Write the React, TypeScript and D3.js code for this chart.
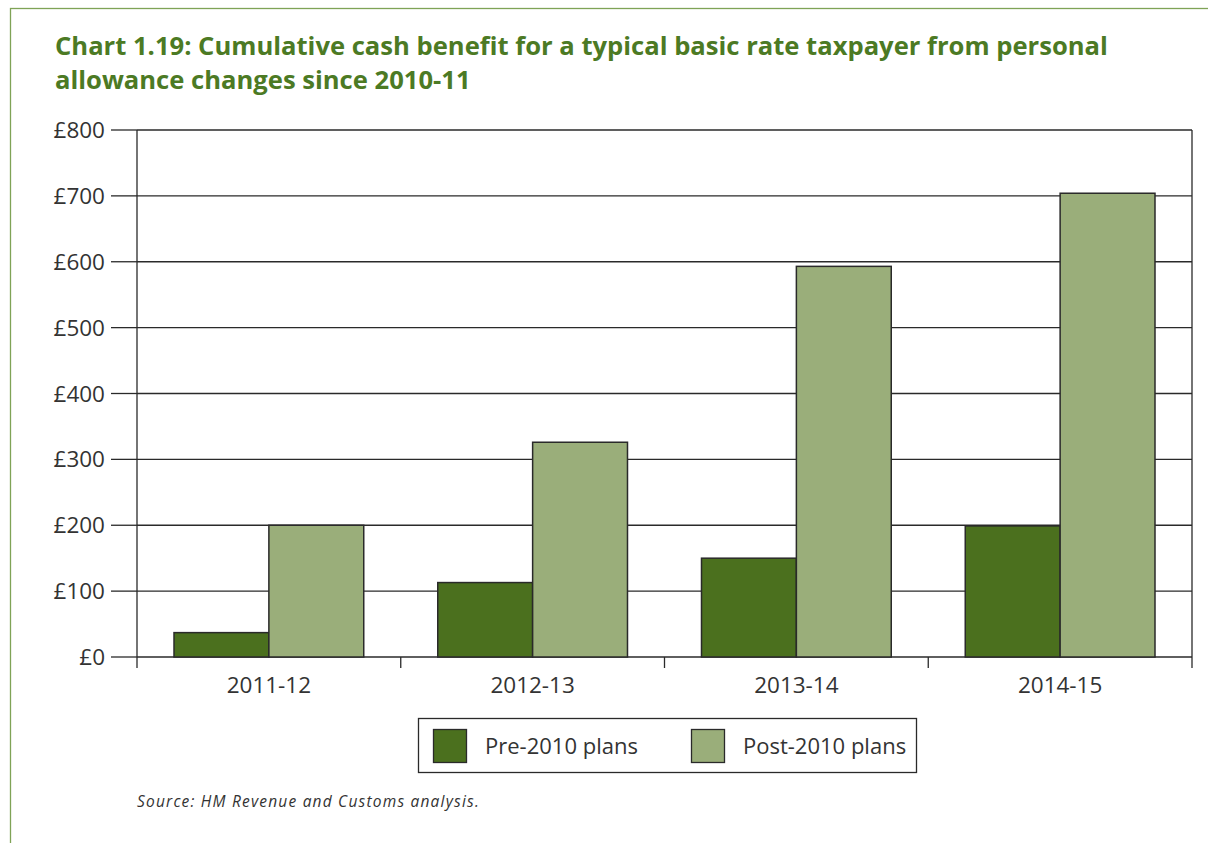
import React from "react";
import * as d3 from "d3";

const categories = ["2011-12", "2012-13", "2013-14", "2014-15"];
const seriesNames = ["Pre-2010 plans", "Post-2010 plans"];
const pre2010 = [37, 113, 150, 199];
const post2010 = [200, 326, 593, 704];
const yTicks = [0, 100, 200, 300, 400, 500, 600, 700, 800];
const colors = ["#4b701e", "#9aae7a"];

export default function App() {
  const W = 1208, H = 843;
  const left = 137, right = 1192, top = 130, bottom = 657;
  const x0 = d3.scaleBand<string>().domain(categories).range([left, right]).paddingInner(0).paddingOuter(0);
  const bw = x0.bandwidth();
  const x1 = d3.scaleBand<string>().domain(seriesNames).range([0, bw]).paddingOuter(0.39).paddingInner(0);
  const y = d3.scaleLinear().domain([0, 800]).range([bottom, top]);
  const data = [pre2010, post2010];
  const font = "'Open Sans', 'Noto Sans', sans-serif";
  return (
    <svg width={W} height={H} style={{ position: "absolute", left: 0, top: 0, background: "#fff" }}>
      <rect x={10.5} y={8.5} width={1300} height={900} fill="none" stroke="#7fa356" strokeWidth={1.3} />
      <text x={55} y={55} fontFamily={font} fontWeight={700} fontSize={25.6} fill="#4c7a24">
        Chart 1.19: Cumulative cash benefit for a typical basic rate taxpayer from personal
      </text>
      <text x={55} y={89} fontFamily={font} fontWeight={700} fontSize={25.6} fill="#4c7a24">
        allowance changes since 2010-11
      </text>
      {yTicks.map((t) => (
        <g key={t}>
          <line x1={left} x2={right} y1={y(t)} y2={y(t)} stroke="#2a2a2a" strokeWidth={1.3} />
          <line x1={111} x2={left} y1={y(t)} y2={y(t)} stroke="#2a2a2a" strokeWidth={1.3} />
          <text x={105} y={y(t) + 8} textAnchor="end" fontFamily={font} fontSize={22.5} fill="#333">
            £{t}
          </text>
        </g>
      ))}
      <line x1={left} x2={left} y1={top} y2={bottom + 11} stroke="#2a2a2a" strokeWidth={1.3} />
      <line x1={right} x2={right} y1={top} y2={bottom + 11} stroke="#2a2a2a" strokeWidth={1.3} />
      {categories.map((c, i) =>
        i > 0 ? (
          <line key={"tk" + c} x1={x0(c)!} x2={x0(c)!} y1={bottom} y2={bottom + 11} stroke="#2a2a2a" strokeWidth={1.3} />
        ) : null
      )}
      {categories.map((c, i) => (
        <g key={c}>
          {seriesNames.map((s, j) => {
            const v = data[j][i];
            return (
              <rect
                key={s}
                x={x0(c)! + x1(s)!}
                y={y(v)}
                width={x1.bandwidth()}
                height={bottom - y(v)}
                fill={colors[j]}
                stroke="#2a2a2a"
                strokeWidth={1.5}
              />
            );
          })}
          <text x={x0(c)! + bw / 2} y={693} textAnchor="middle" fontFamily={font} fontSize={22.5} fill="#333">
            {c}
          </text>
        </g>
      ))}
      <rect x={418.5} y={718.5} width={498} height={54} fill="#fff" stroke="#2a2a2a" strokeWidth={1.3} />
      {seriesNames.map((s, j) => {
        const sx = [433, 691][j];
        return (
          <g key={"lg" + s}>
            <rect x={sx + 0.5} y={729.5} width={33} height={33} fill={colors[j]} stroke="#2a2a2a" strokeWidth={1.3} />
            <text x={sx + 52} y={754} fontFamily={font} fontSize={22} fill="#333">
              {s}
            </text>
          </g>
        );
      })}
      <text x={137} y={807} fontFamily={font} fontStyle="italic" fontSize={15.5} letterSpacing={1.2} fill="#333">
        Source: HM Revenue and Customs analysis.
      </text>
    </svg>
  );
}
